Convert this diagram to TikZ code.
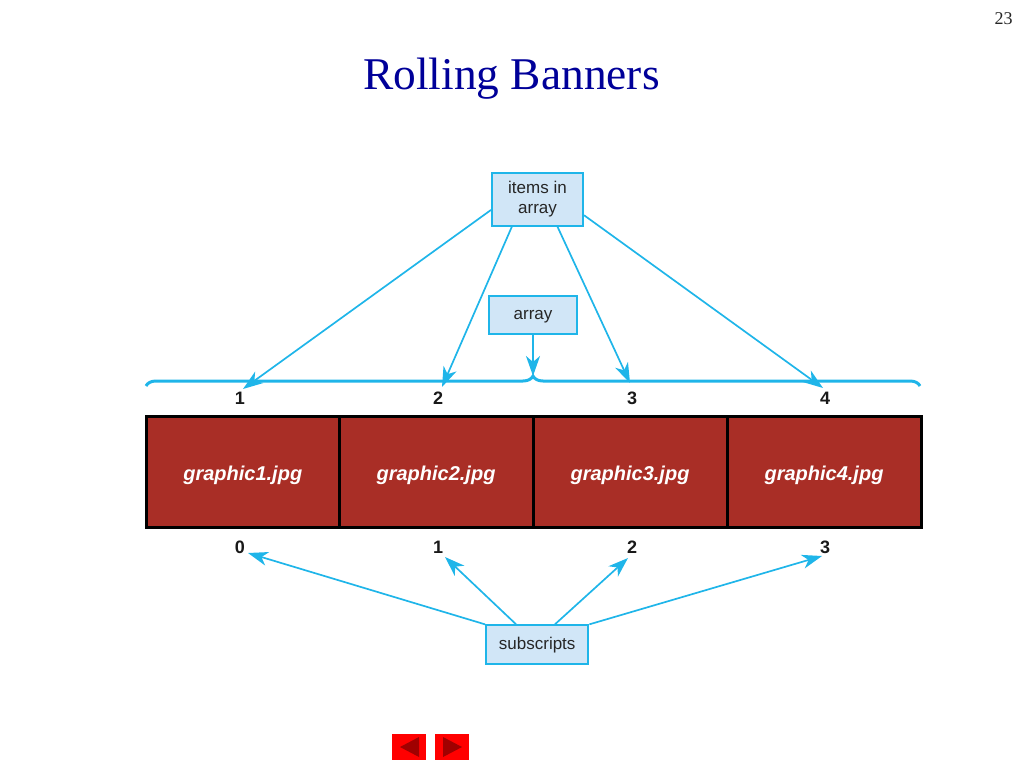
\documentclass[tikz,border=0pt]{standalone}
\usepackage{fontspec}
\setmainfont{Liberation Serif}
\newfontfamily\labelfont{Liberation Sans}
\usetikzlibrary{
	positioning				% Relative placement of the cells
	, arrows.meta			% Barbed arrow tips
	, decorations.pathreplacing	% Brace above the array
}
\definecolor{calloutblue}{HTML}{1FB5E9}
\definecolor{calloutfill}{HTML}{D1E6F7}
\definecolor{cellred}{HTML}{A92E26}
\definecolor{navred}{HTML}{FF0000}
\definecolor{navdark}{HTML}{A00000}
\definecolor{titleblue}{HTML}{000099}

\begin{document}
\begin{tikzpicture}[
		x=1pt, y=-1pt
		, callout/.style={draw=calloutblue, fill=calloutfill, line width=2pt, inner sep=0pt, align=center, text=black!85, font=\labelfont\fontsize{17}{20}\selectfont}
		, pointer/.style={calloutblue, line width=1.7pt, -{Stealth[length=20pt, width=14pt, inset=6pt]}}
		, cell/.style={draw=black, fill=cellred, line width=3pt, minimum width=194pt, minimum height=110.5pt, inner sep=0pt, text height=16.5pt, text depth=0pt, text=white, font=\labelfont\bfseries\itshape\fontsize{20}{22}\selectfont}
		, index/.style={inner sep=0pt, font=\labelfont\bfseries\fontsize{18}{20}\selectfont, text=black!90}
		, navbutton/.style={fill=navred, minimum width=34pt, minimum height=26pt, inner sep=0pt}
	]
	\useasboundingbox (0,0) rectangle (1024,768);

	% Slide number and title
	\node [font=\fontsize{18}{20}\selectfont, text=black!85, inner sep=0pt] (pagenumber) at (1003.5,19) {23};
	\node [font=\fontsize{45.4}{50}\selectfont, text=titleblue, inner sep=0pt] (title) at (511.5,79) {Rolling Banners};

	% Draw the row of array cells
	\node [cell, minimum width=192.5pt] (cell1) at (242.75,472.2) {graphic1.jpg};
	\foreach [count=\i] \graphic in {graphic2.jpg,graphic3.jpg,graphic4.jpg} {
		\pgfmathtruncatemacro{\cur}{\i+1}
		\node [cell, right=-3pt of cell\i] (cell\cur) {\graphic};
	};

	% Numbers above and below the cells
	\foreach [count=\i] \x in {240,438,632,825} {
		\node [index] (item\i) at (\x,398.5) {\i};
		\pgfmathtruncatemacro{\sub}{\i-1}
		\node [index] (sub\i) at (\x,547.5) {\sub};
	};

	% Brace over the whole array
	\draw [calloutblue, line width=3pt, decorate, decoration={brace, amplitude=10pt, aspect=0.5}] (146,386) -- (920,386);
	\coordinate (bracetip) at (533,376);

	% Callout boxes
	\node [callout, minimum width=91pt, minimum height=53pt] (itemsbox) at (537.5,199.2) {items in\\array};
	\node [callout, minimum width=88.4pt, minimum height=38pt, text depth=0pt] (arraybox) at (533,315) {array};
	\node [callout, minimum width=102.3pt, minimum height=38.7pt] (subsbox) at (537.2,644.7) {subscripts};

	% Free ends of the pointers
	\coordinate (itemtip1) at (243,389);
	\coordinate (itemtip2) at (442,387);
	\coordinate (itemtip3) at (630,383);
	\coordinate (itemtip4) at (823,388);
	\coordinate (subtip1) at (248,553);
	\coordinate (subtip2) at (445,557);
	\coordinate (subtip3) at (628,558);
	\coordinate (subtip4) at (822,556);

	% Pointers from the callouts
	\foreach [count=\i] \angle in {193,227,306.5,341} {
		\draw [pointer] (itemsbox.\angle) -- (itemtip\i);
	};
	\draw [pointer] (arraybox.south) -- (bracetip);
	\foreach [count=\i] \angle in {north west,136,49,north east} {
		\draw [pointer] (subsbox.\angle) -- (subtip\i);
	};

	% Navigation buttons
	\node [navbutton] (navback) at (409,747) {};
	\node [navbutton] (navnext) at (452,747) {};
	\fill [navdark] (400,747) -- (419,737) -- (419,757) -- cycle;
	\fill [navdark] (443,737) -- (462,747) -- (443,757) -- cycle;
\end{tikzpicture}
\end{document}
